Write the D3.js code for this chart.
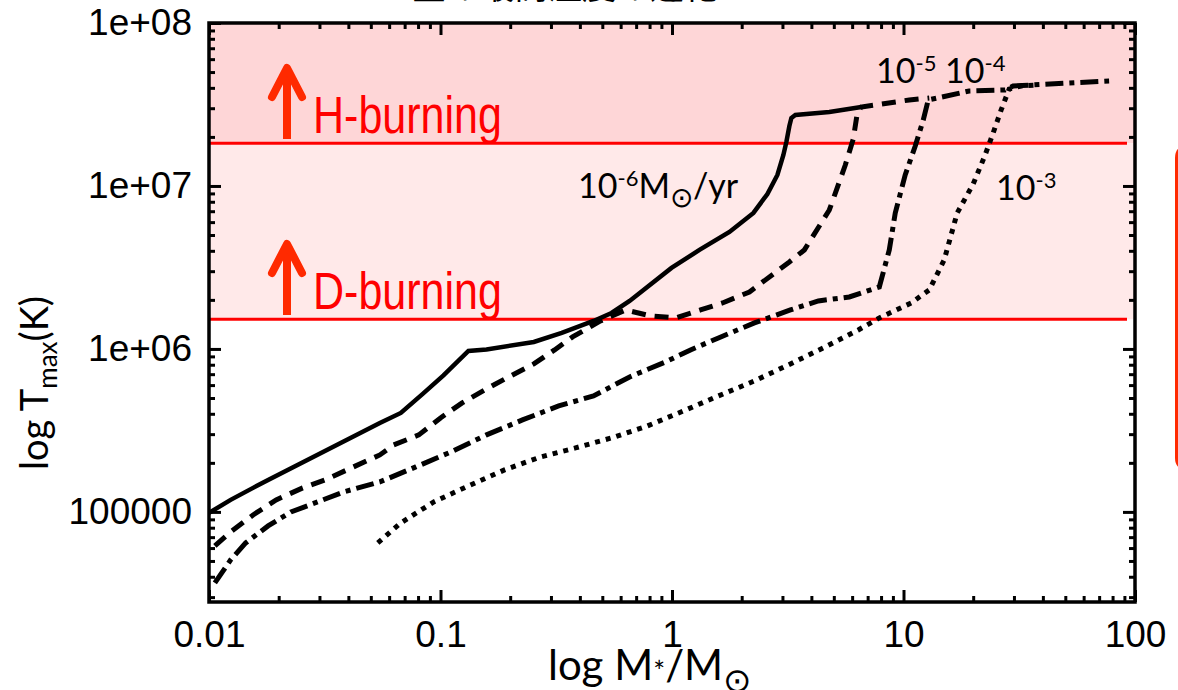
<!DOCTYPE html>
<html>
<head>
<meta charset="utf-8">
<script src="https://cdn.jsdelivr.net/npm/d3@7"></script>
<style>
body { margin: 0; background: #fff; }
svg { display: block; }
</style>
</head>
<body>
<svg width="1178" height="690"></svg>
<script>
// axis ticks
var massTicks = [0.01, 0.1, 1, 10, 100];
var massTickLabels = ['0.01', '0.1', '1', '10', '100'];
var tempTicks = [1e5, 1e6, 1e7, 1e8];
var tempTickLabels = ['100000', '1e+06', '1e+07', '1e+08'];

// burning thresholds (K)
var burningNames = ['H-burning', 'D-burning'];
var burningTemps = [1.83e7, 1.52e6];

// accretion rate 1e-6 Msun/yr
var mass6 = [0.0100, 0.0124, 0.0155, 0.0180, 0.0547, 0.0674, 0.0838, 0.103, 0.132, 0.158, 0.253, 0.334, 0.458, 0.548, 0.656, 0.995, 1.314, 1.771, 2.248, 2.583, 2.853, 3.028, 3.119, 3.214, 3.278, 3.411, 4.782, 6.573];
var temp6 = [9.86e4, 1.185e5, 1.404e5, 1.572e5, 3.516e5, 4.05e5, 5.297e5, 6.878e5, 9.72e5, 9.93e5, 1.104e6, 1.254e6, 1.485e6, 1.663e6, 1.97e6, 3.141e6, 4.05e6, 5.223e6, 6.83e6, 8.93e6, 1.168e7, 1.55e7, 1.862e7, 2.334e7, 2.613e7, 2.726e7, 2.844e7, 3.053e7];

// 1e-5
var mass5 = [0.0106, 0.0124, 0.0155, 0.0195, 0.0254, 0.0317, 0.0547, 0.0628, 0.0806, 0.100, 0.124, 0.158, 0.197, 0.253, 0.311, 0.372, 0.491, 0.630, 0.808, 1.035, 1.327, 1.652, 2.160, 3.214, 3.730, 4.782, 5.606, 6.070, 6.316, 6.573, 10.59, 12.92];
var temp5 = [6.185e4, 7.54e4, 9.58e4, 1.185e5, 1.404e5, 1.572e5, 2.237e5, 2.577e5, 2.968e5, 3.773e5, 4.664e5, 5.683e5, 6.734e5, 8.09e5, 9.86e5, 1.185e6, 1.485e6, 1.735e6, 1.594e6, 1.55e6, 1.735e6, 1.915e6, 2.237e6, 3.419e6, 4.05e6, 7.125e6, 1.345e7, 1.943e7, 2.805e7, 3.053e7, 3.371e7, 3.467e7];

// 1e-4
var mass4 = [0.0106, 0.0124, 0.0144, 0.0180, 0.0226, 0.0295, 0.0382, 0.0547, 0.0782, 0.111, 0.158, 0.226, 0.324, 0.458, 0.656, 0.937, 1.202, 1.587, 2.270, 3.246, 4.287, 5.833, 7.861, 8.681, 9.214, 10.17, 11.24, 12.17, 12.79, 19.22, 27.48, 29.76, 51.9, 77.3];
var temp4 = [3.667e4, 5.076e4, 6.453e4, 8.206e4, 1.0e5, 1.152e5, 1.327e5, 1.528e5, 1.888e5, 2.334e5, 2.968e5, 3.667e5, 4.471e5, 5.149e5, 6.734e5, 8.32e5, 9.86e5, 1.168e6, 1.444e6, 1.735e6, 1.97e6, 2.085e6, 2.401e6, 4.05e6, 6.83e6, 1.168e7, 1.76e7, 2.54e7, 3.371e7, 3.827e7, 3.881e7, 4.107e7, 4.284e7, 4.406e7];

// 1e-3
var mass3 = [0.0536, 0.0674, 0.0935, 0.132, 0.189, 0.271, 0.383, 0.548, 0.784, 1.121, 1.587, 2.270, 3.246, 4.596, 6.380, 7.861, 10.80, 12.92, 14.99, 17.06, 20.00, 22.53, 24.39, 26.41, 28.60, 32.22, 38.53];
var temp3 = [6.453e4, 8.56e4, 1.152e5, 1.444e5, 1.81e5, 2.175e5, 2.47e5, 2.844e5, 3.371e5, 4.166e5, 5.149e5, 6.363e5, 8.09e5, 1.029e6, 1.308e6, 1.55e6, 1.915e6, 2.301e6, 3.516e6, 6.83e6, 1.029e7, 1.55e7, 2.114e7, 2.926e7, 3.936e7, 4.107e7, 4.166e7];

var dom = {};
var tickFont = '"Liberation Sans", Arial, sans-serif';
var noteFont = 'Lato, "Open Sans", sans-serif';

function zip(a, b) { return a.map(function(v, i) { return [v, b[i]]; }); }

function minorTicks(lo, hi) {
    var t = [];
    for (var e = Math.floor(Math.log10(lo)); e < Math.log10(hi); e++)
        for (var k = 2; k < 10; k++) {
            var v = k * Math.pow(10, e);
            if (v > lo && v < hi) t.push(v);
        }
    return t;
}

dom.svg = d3.select('svg');
var x = d3.scaleLog().domain([0.01, 100]).range([209, 1135]);
var y = d3.scaleLog().domain([2.8e4, 1e8]).range([602, 23]);
var x0 = x.range()[0], x1 = x.range()[1], y0 = y.range()[1], y1 = y.range()[0];

// title cut off by the top edge
dom.svg.append('text')
    .attr('x', 565).attr('y', -1)
    .attr('text-anchor', 'middle')
    .style('font-family', '"Noto Sans CJK JP", sans-serif')
    .style('font-size', '34px')
    .text('星の最高温度の進化');

// background bands
dom.svg.append('rect')
    .attr('x', x0).attr('y', y0)
    .attr('width', x1 - x0).attr('height', y(burningTemps[0]) - y0)
    .attr('fill', '#fed6d7');
dom.svg.append('rect')
    .attr('x', x0).attr('y', y(burningTemps[0]))
    .attr('width', x1 - x0).attr('height', y(burningTemps[1]) - y(burningTemps[0]))
    .attr('fill', '#ffe9e9');

dom.svg.selectAll('.limit')
        .data(burningTemps)
    .enter().append('line')
        .classed('limit', true)
        .attr('x1', x0).attr('x2', x1 - 8)
        .attr('y1', function(d) { return y(d); })
        .attr('y2', function(d) { return y(d); })
        .attr('stroke', '#ff0000')
        .attr('stroke-width', 3);

// curves
dom.svg.append('clipPath').attr('id', 'plotClip')
    .append('rect').attr('x', x0).attr('y', y0).attr('width', x1 - x0).attr('height', y1 - y0);

var series = [
    { rate: '1e-6', points: zip(mass6, temp6), dash: null, width: 4.5 },
    { rate: '1e-5', points: zip(mass5, temp5), dash: '14,9', width: 5 },
    { rate: '1e-4', points: zip(mass4, temp4), dash: '18,6,5,6', width: 5 },
    { rate: '1e-3', points: zip(mass3, temp3), dash: '5,6', width: 5 }
];

var line = d3.line()
    .x(function(d) { return x(d[0]); })
    .y(function(d) { return y(d[1]); });

dom.svg.append('g').attr('clip-path', 'url(#plotClip)')
    .selectAll('.curve')
        .data(series)
    .enter().append('path')
        .classed('curve', true)
        .attr('d', function(d) { return line(d.points); })
        .attr('fill', 'none')
        .attr('stroke', '#000')
        .attr('stroke-width', function(d) { return d.width; })
        .attr('stroke-dasharray', function(d) { return d.dash; });

// axes, gnuplot style: inward ticks on all sides
function styleAxis(g) {
    g.select('.domain').remove();
    g.selectAll('line').attr('stroke', '#000').attr('stroke-width', 3);
    g.selectAll('text').style('font-family', tickFont).style('font-size', '37px').attr('fill', '#000');
}

var xMinor = minorTicks(0.01, 100), yMinor = minorTicks(2.8e4, 1e8);

dom.svg.append('g').attr('transform', 'translate(0,' + y1 + ')')
    .call(d3.axisBottom(x).tickValues(massTicks).tickSize(-12).tickPadding(19)
        .tickFormat(function(d, i) { return massTickLabels[i]; }))
    .call(styleAxis);
dom.svg.append('g').attr('transform', 'translate(0,' + y1 + ')')
    .call(d3.axisBottom(x).tickValues(xMinor).tickSize(-6).tickFormat(''))
    .call(styleAxis);
dom.svg.append('g').attr('transform', 'translate(0,' + y0 + ')')
    .call(d3.axisTop(x).tickValues(massTicks).tickSize(-12).tickFormat(''))
    .call(styleAxis);
dom.svg.append('g').attr('transform', 'translate(0,' + y0 + ')')
    .call(d3.axisTop(x).tickValues(xMinor).tickSize(-6).tickFormat(''))
    .call(styleAxis);

dom.svg.append('g').attr('transform', 'translate(' + x0 + ',0)')
    .call(d3.axisLeft(y).tickValues(tempTicks).tickSize(-12).tickPadding(17)
        .tickFormat(function(d, i) { return tempTickLabels[i]; }))
    .call(styleAxis);
dom.svg.append('g').attr('transform', 'translate(' + x0 + ',0)')
    .call(d3.axisLeft(y).tickValues(yMinor).tickSize(-6).tickFormat(''))
    .call(styleAxis);
dom.svg.append('g').attr('transform', 'translate(' + x1 + ',0)')
    .call(d3.axisRight(y).tickValues(tempTicks).tickSize(-12).tickFormat(''))
    .call(styleAxis);
dom.svg.append('g').attr('transform', 'translate(' + x1 + ',0)')
    .call(d3.axisRight(y).tickValues(yMinor).tickSize(-6).tickFormat(''))
    .call(styleAxis);

dom.svg.append('rect')
    .attr('x', x0).attr('y', y0).attr('width', x1 - x0).attr('height', y1 - y0)
    .attr('fill', 'none').attr('stroke', '#000').attr('stroke-width', 3.5);

// axis titles
var yTitle = dom.svg.append('text')
    .attr('transform', 'translate(48,383) rotate(-90)')
    .attr('text-anchor', 'middle')
    .style('font-family', noteFont).style('font-size', '38px');
yTitle.append('tspan').text('log T');
yTitle.append('tspan').attr('dy', 9).style('font-size', '26px').text('max');
yTitle.append('tspan').attr('dy', -9).text('(K)');

var xTitle = dom.svg.append('text')
    .attr('x', 548).attr('y', 680)
    .style('font-family', noteFont).style('font-size', '42px');
xTitle.append('tspan').text('log M');
xTitle.append('tspan').attr('dy', 2).style('font-size', '28px').text('*');
xTitle.append('tspan').attr('dy', -2).text('/M');
xTitle.append('tspan').attr('dy', 12).style('font-size', '34px').text('\u2299');

// burning annotations
var burnTextY = [133, 309];
dom.svg.selectAll('.burnLabel')
        .data(burningNames)
    .enter().append('text')
        .classed('burnLabel', true)
        .attr('x', 313)
        .attr('y', function(d, i) { return burnTextY[i]; })
        .attr('textLength', 189)
        .attr('lengthAdjust', 'spacingAndGlyphs')
        .attr('fill', '#ff0000')
        .style('font-family', tickFont)
        .style('font-size', '51px')
        .text(function(d) { return d; });

burnTextY.forEach(function(b) {
    var bottom = b + 6, tip = bottom - 74;
    dom.svg.append('line')
        .attr('x1', 287).attr('x2', 287).attr('y1', bottom).attr('y2', tip + 4)
        .attr('stroke', '#ff2a00').attr('stroke-width', 8);
    dom.svg.append('path')
        .attr('d', 'M272,' + (tip + 32) + 'L287,' + (tip + 3) + 'L302,' + (tip + 32))
        .attr('fill', 'none').attr('stroke', '#ff2a00').attr('stroke-width', 8)
        .attr('stroke-linecap', 'round').attr('stroke-linejoin', 'round');
});

// accretion-rate labels
function rateLabel(px, py, parts) {
    var t = dom.svg.append('text').attr('x', px).attr('y', py)
        .style('font-family', noteFont).style('font-size', '34px');
    parts.forEach(function(p) {
        var s = t.append('tspan').text(p[0]);
        if (p[1]) s.attr('dy', p[1]);
        if (p[2]) s.style('font-size', p[2]);
    });
}
rateLabel(578, 198, [['10'], ['-6', -12, '22px'], ['M', 12], ['\u2299', 9, '28px'], ['/yr', -9]]);
rateLabel(876, 83, [['10'], ['-5', -12, '22px'], [' 10', 12], ['-4', -12, '22px']]);
rateLabel(996, 200, [['10'], ['-3', -12, '22px']]);

// edge of a box at the right border
dom.svg.append('path')
    .attr('d', 'M1190,146Q1176.5,146 1176.5,158L1176.5,458Q1176.5,469 1190,469')
    .attr('fill', 'none').attr('stroke', '#ff2a00').attr('stroke-width', 3);
</script>
</body>
</html>
